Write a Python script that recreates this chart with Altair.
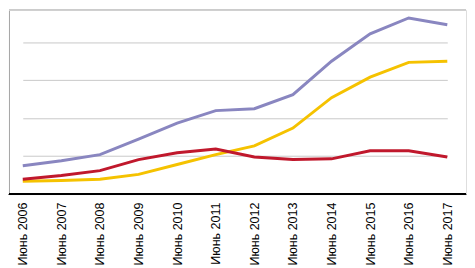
import altair as alt
import pandas as pd

years = ["Июнь 2006", "Июнь 2007", "Июнь 2008", "Июнь 2009", "Июнь 2010", "Июнь 2011",
         "Июнь 2012", "Июнь 2013", "Июнь 2014", "Июнь 2015", "Июнь 2016", "Июнь 2017"]
purple = [0.75, 0.88, 1.04, 1.45, 1.87, 2.20, 2.25, 2.62, 3.50, 4.22, 4.64, 4.46]
yellow = [0.34, 0.36, 0.39, 0.52, 0.78, 1.04, 1.27, 1.74, 2.54, 3.08, 3.47, 3.50]
red = [0.39, 0.49, 0.62, 0.91, 1.09, 1.19, 0.98, 0.91, 0.93, 1.14, 1.14, 0.98]
series_names = ["A", "B", "C"]
series_colors = ["#8986C0", "#F5C200", "#C0182C"]

rows = []
for name, vals in zip(series_names, [purple, yellow, red]):
    for y, v in zip(years, vals):
        rows.append({"year": y, "value": v, "series": name})
df = pd.DataFrame(rows)

W, H = 464, 187

lines = alt.Chart(df).mark_line(strokeWidth=3).encode(
    x=alt.X("year:O", sort=years, title=None,
            scale=alt.Scale(type="point", range=[14, 445], padding=0),
            axis=alt.Axis(labelAngle=270, labelFontSize=12.7, labelFont="Liberation Sans",
                          labelColor="#000000", ticks=False, domain=False,
                          labelPadding=8, grid=False)),
    y=alt.Y("value:Q", title=None,
            scale=alt.Scale(domain=[0, 4.85], nice=False, zero=True),
            axis=alt.Axis(values=[1, 2, 3, 4], labels=False, ticks=False,
                          domainColor="#A6A6A6", gridColor="#C8C8C8", gridWidth=1)),
    color=alt.Color("series:N", scale=alt.Scale(domain=series_names, range=series_colors),
                    legend=None),
)

bottom = alt.Chart(df).mark_rule(color="#000000", strokeWidth=1.5).encode(
    x=alt.value(0), x2=alt.value(W), y=alt.value(H))
top = alt.Chart(df).mark_rule(color="#D0D0D0", strokeWidth=1).encode(
    x=alt.value(0), x2=alt.value(W), y=alt.value(0.5))

chart = alt.layer(top, lines, bottom).properties(
    width=W, height=H, padding=0
).configure_view(stroke=None).configure(background="#FFFFFF")

chart.save("out.html", embed_options={"renderer": "svg", "actions": False})
